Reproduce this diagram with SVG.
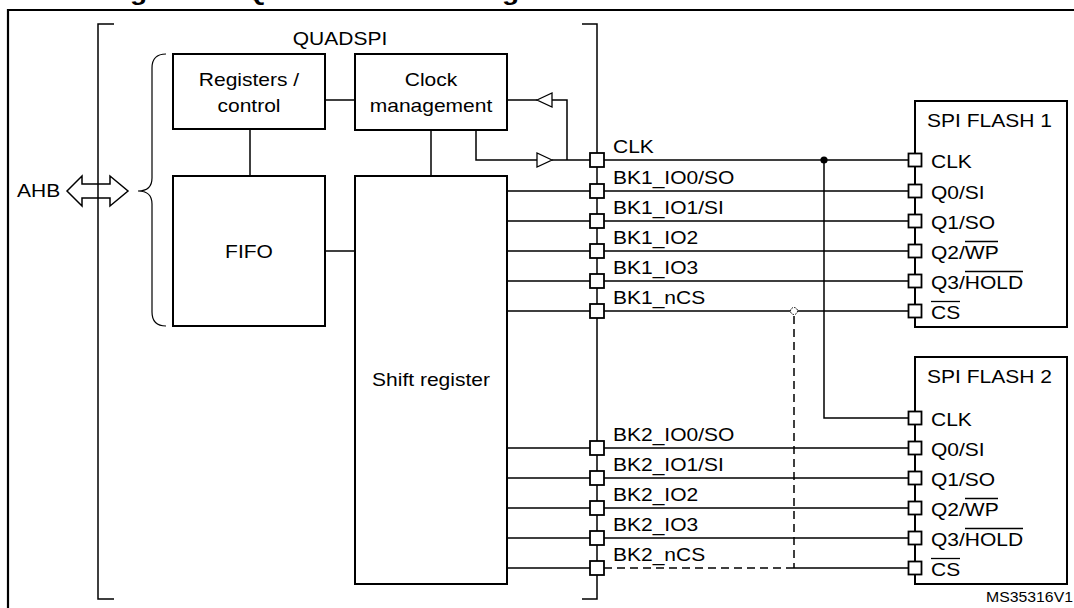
<svg xmlns="http://www.w3.org/2000/svg" width="1074" height="608" viewBox="0 0 1074 608">
<style>
.t{font-family:"Liberation Sans",Arial,sans-serif;font-size:18.6px;fill:#000}
.c{text-anchor:middle}
.cap{font-family:"Liberation Sans",Arial,sans-serif;font-size:24.8px;font-weight:bold;fill:#000}
.box{fill:#fff;stroke:#000;stroke-width:2}
.ln{stroke:#000;stroke-width:1.5;fill:none}
.thin{stroke:#000;stroke-width:1.2;fill:none}
.dash{stroke:#000;stroke-width:1.5;fill:none;stroke-dasharray:8 5}
.pad{fill:#fff;stroke:#000;stroke-width:1.8}
.ov{stroke:#000;stroke-width:1.3}
</style>
<rect width="1074" height="608" fill="#fff"/>
<text class="cap" transform="translate(105,-0.4) scale(1.13 1)">Figure 10. QUADSPI block diagram when dual-flash mode is enabled</text>
<path d="M8,608 V10 H1074" fill="none" stroke="#000" stroke-width="2.2"/>

<g id="ahb">
<path class="ln" d="M114,24 H98 V599 H114" stroke-width="1.8"/>
<polygon class="ln" points="67,191 82,176 82,184 110,184 110,176 128,191 110,206 110,198 82,198 82,206" stroke-width="1.3"/>
<text class="t" transform="translate(17,197) scale(1.13 1)">AHB</text>
</g>

<g id="quadspi">
<path class="ln" d="M582,24 H597 V599 H582" stroke-width="1.8"/>
<text class="t c" transform="translate(340,45) scale(1.13 1)">QUADSPI</text>
<path class="thin" d="M166,54 Q152,54 152,68 L152,178 Q152,191 138,191 Q152,191 152,204 L152,312 Q152,326 166,326"/>
</g>

<g id="connectors">
<path class="ln" d="M325,100 H355"/>
<path class="ln" d="M250,129 V176"/>
<path class="ln" d="M325,251 H355"/>
<path class="ln" d="M431,130 V176"/>
<path class="ln" d="M507,100 H537 M552,100 H567 V160"/>
<path class="ln" d="M476,130 V160 H537 M552,160 H908"/>
<path class="ln" d="M824,160 V418 H908"/>
<path class="ln" d="M507,191 H908 M507,221 H908 M507,251 H908 M507,281 H908 M507,311 H908"/>
<path class="ln" d="M507,448 H908 M507,478 H908 M507,508 H908 M507,538 H908"/>
<path class="ln" d="M507,568 H590 M794,568 H908"/>
<path class="dash" d="M604,568 H794"/>
<path class="dash" d="M794,316 V568"/>
<circle cx="794" cy="311" r="3.5" fill="#fff" stroke="#000" stroke-width="1" stroke-dasharray="1.5 1.2"/>
<circle cx="824" cy="160" r="3.6" fill="#000"/>
<polygon points="537,100 552,93 552,107" fill="#fff" stroke="#000" stroke-width="1.3"/>
<polygon points="552,160 537,153 537,167" fill="#fff" stroke="#000" stroke-width="1.3"/>
</g>

<g id="registers">
<rect class="box" x="173" y="54" width="152" height="75"/>
<text class="t c" transform="translate(249,86) scale(1.13 1)">Registers /</text>
<text class="t c" transform="translate(249,112) scale(1.13 1)">control</text>
</g>
<g id="clock">
<rect class="box" x="355" y="54" width="152" height="76"/>
<text class="t c" transform="translate(431,86) scale(1.13 1)">Clock</text>
<text class="t c" transform="translate(431,112) scale(1.13 1)">management</text>
</g>
<g id="fifo">
<rect class="box" x="173" y="176" width="152" height="150"/>
<text class="t c" transform="translate(249,258) scale(1.13 1)">FIFO</text>
</g>
<g id="shift">
<rect class="box" x="355" y="176" width="152" height="408"/>
<text class="t c" transform="translate(431,386) scale(1.13 1)">Shift register</text>
</g>

<g id="pins">
<rect class="pad" x="590" y="153" width="14" height="14"/>
<rect class="pad" x="590" y="184" width="14" height="14"/>
<rect class="pad" x="590" y="214" width="14" height="14"/>
<rect class="pad" x="590" y="244" width="14" height="14"/>
<rect class="pad" x="590" y="274" width="14" height="14"/>
<rect class="pad" x="590" y="304" width="14" height="14"/>
<rect class="pad" x="590" y="441" width="14" height="14"/>
<rect class="pad" x="590" y="471" width="14" height="14"/>
<rect class="pad" x="590" y="501" width="14" height="14"/>
<rect class="pad" x="590" y="531" width="14" height="14"/>
<rect class="pad" x="590" y="561" width="14" height="14"/>
<text class="t" transform="translate(613,153) scale(1.13 1)">CLK</text>
<text class="t" transform="translate(613,184) scale(1.13 1)">BK1_IO0/SO</text>
<text class="t" transform="translate(613,214) scale(1.13 1)">BK1_IO1/SI</text>
<text class="t" transform="translate(613,244) scale(1.13 1)">BK1_IO2</text>
<text class="t" transform="translate(613,274) scale(1.13 1)">BK1_IO3</text>
<text class="t" transform="translate(613,304) scale(1.13 1)">BK1_nCS</text>
<text class="t" transform="translate(613,441) scale(1.13 1)">BK2_IO0/SO</text>
<text class="t" transform="translate(613,471) scale(1.13 1)">BK2_IO1/SI</text>
<text class="t" transform="translate(613,501) scale(1.13 1)">BK2_IO2</text>
<text class="t" transform="translate(613,531) scale(1.13 1)">BK2_IO3</text>
<text class="t" transform="translate(613,561) scale(1.13 1)">BK2_nCS</text>
</g>

<g id="flash1">
<rect class="box" x="915" y="101" width="152" height="226"/>
<text class="t" transform="translate(927,127) scale(1.13 1)">SPI FLASH 1</text>
<rect class="pad" x="908.5" y="153.5" width="13" height="13"/>
<rect class="pad" x="908.5" y="184.5" width="13" height="13"/>
<rect class="pad" x="908.5" y="214.5" width="13" height="13"/>
<rect class="pad" x="908.5" y="244.5" width="13" height="13"/>
<rect class="pad" x="908.5" y="274.5" width="13" height="13"/>
<rect class="pad" x="908.5" y="304.5" width="13" height="13"/>
<text class="t" transform="translate(931,167.5) scale(1.13 1)">CLK</text>
<text class="t" transform="translate(931,198.5) scale(1.13 1)">Q0/SI</text>
<text class="t" transform="translate(931,228.5) scale(1.13 1)">Q1/SO</text>
<text class="t" transform="translate(931,258.5) scale(1.13 1)">Q2/WP</text>
<text class="t" transform="translate(931,288.5) scale(1.13 1)">Q3/HOLD</text>
<text class="t" transform="translate(931,318.5) scale(1.13 1)">CS</text>
<line class="ov" x1="965" y1="241.5" x2="998" y2="241.5"/>
<line class="ov" x1="965" y1="271.5" x2="1023" y2="271.5"/>
<line class="ov" x1="931" y1="301.5" x2="960" y2="301.5"/>
</g>

<g id="flash2">
<rect class="box" x="915" y="357" width="152" height="227"/>
<text class="t" transform="translate(927,383) scale(1.13 1)">SPI FLASH 2</text>
<rect class="pad" x="908.5" y="411.5" width="13" height="13"/>
<rect class="pad" x="908.5" y="441.5" width="13" height="13"/>
<rect class="pad" x="908.5" y="471.5" width="13" height="13"/>
<rect class="pad" x="908.5" y="501.5" width="13" height="13"/>
<rect class="pad" x="908.5" y="531.5" width="13" height="13"/>
<rect class="pad" x="908.5" y="561.5" width="13" height="13"/>
<text class="t" transform="translate(931,425.5) scale(1.13 1)">CLK</text>
<text class="t" transform="translate(931,455.5) scale(1.13 1)">Q0/SI</text>
<text class="t" transform="translate(931,485.5) scale(1.13 1)">Q1/SO</text>
<text class="t" transform="translate(931,515.5) scale(1.13 1)">Q2/WP</text>
<text class="t" transform="translate(931,545.5) scale(1.13 1)">Q3/HOLD</text>
<text class="t" transform="translate(931,575.5) scale(1.13 1)">CS</text>
<line class="ov" x1="965" y1="498.5" x2="998" y2="498.5"/>
<line class="ov" x1="965" y1="528.5" x2="1023" y2="528.5"/>
<line class="ov" x1="931" y1="558.5" x2="960" y2="558.5"/>
</g>

<text class="t" style="font-size:14px;text-anchor:end" transform="translate(1073,602) scale(1.13 1)">MS35316V1</text>
</svg>
